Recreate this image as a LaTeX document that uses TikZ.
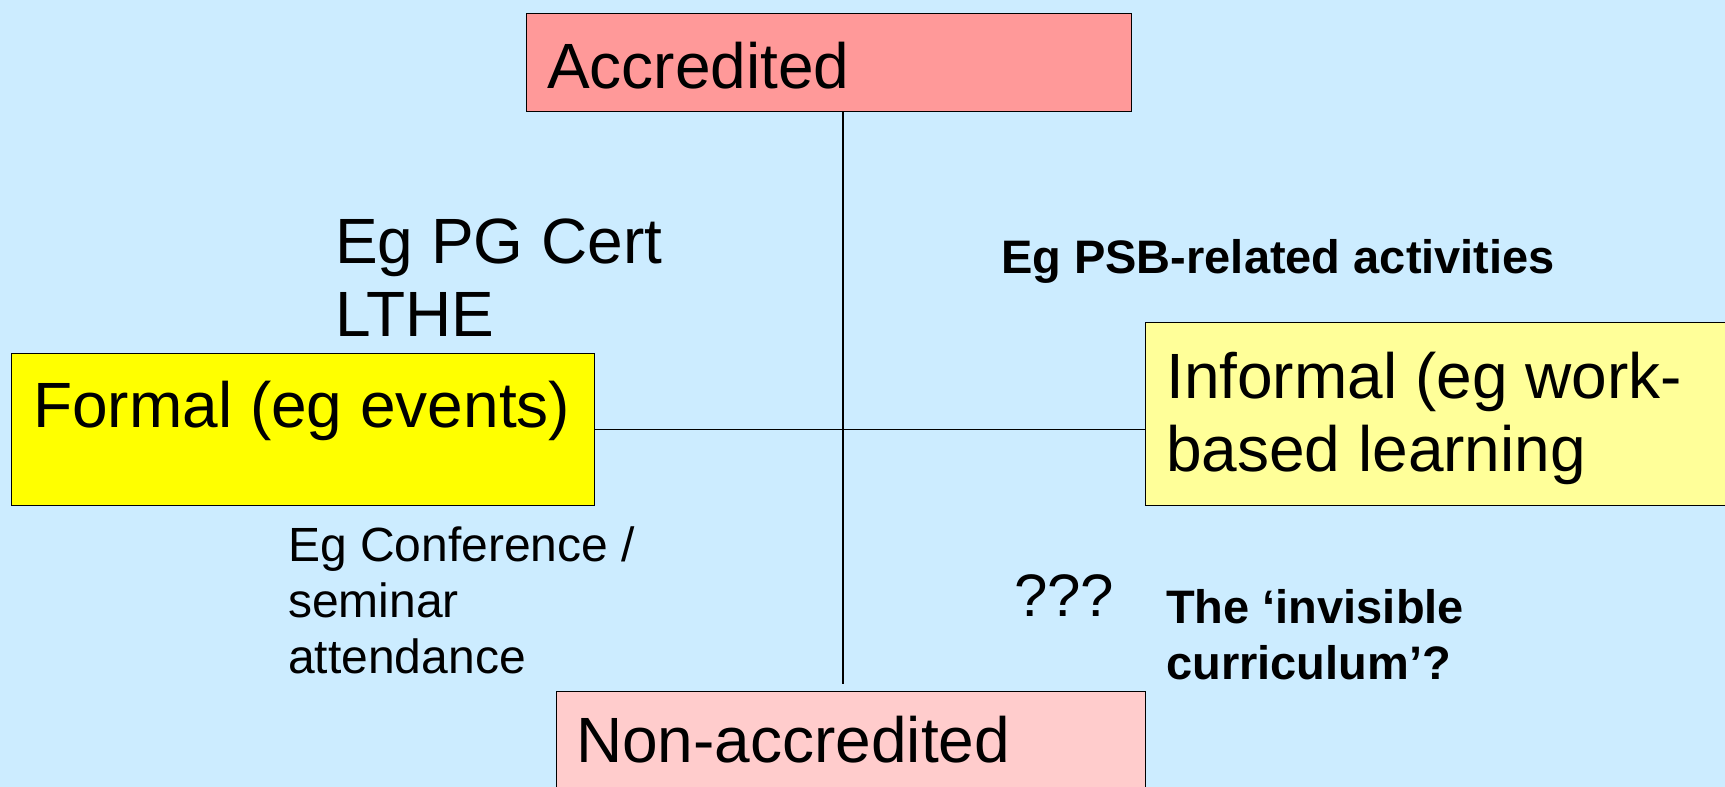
\documentclass[tikz,border=0pt]{standalone}
\usepackage{fontspec}
\setmainfont{Liberation Sans}
\usetikzlibrary{positioning,calc}
\definecolor{sky}{HTML}{CCECFF}
\definecolor{rose}{HTML}{FF9999}
\definecolor{blush}{HTML}{FFCCCC}
\definecolor{lemon}{HTML}{FFFF00}
\definecolor{cream}{HTML}{FFFF99}
\tikzset{
  box/.style={draw=black,line width=1.3pt,anchor=north west,inner sep=0pt},
  big/.style={font=\fontsize{64}{73}\selectfont,anchor=base west,inner sep=0pt,align=left},
  small/.style={font=\fontsize{48}{56}\selectfont,anchor=base west,inner sep=0pt,align=left},
  bold/.style={small,font=\fontsize{47}{56}\selectfont\bfseries},
  link/.style={draw=black,line width=1.3pt}
}

\begin{document}
\begin{tikzpicture}[x=1pt,y=-1pt]
    \useasboundingbox (0,0) rectangle (1725,787);
    \fill[sky] (0,0) rectangle (1725,787);

    % the four poles
    \node[box,fill=rose,minimum width=605,minimum height=98] (accred) at (526,13) {};
    \node[box,fill=lemon,minimum width=583,minimum height=152] (formal) at (11,353) {};
    \node[box,fill=cream,minimum width=620,minimum height=183] (informal) at (1145,322) {};
    \node[box,fill=blush,minimum width=589,minimum height=120] (nonacc) at (556,691) {};

    % multi-line texts sit on their last baseline
    \node[big] (acclbl) at (547,88) {Accredited};
    \node[big] (formlbl) at (33,427) {Formal (eg events)};
    \node[big] (inflbl) at (1166,471) {Informal (eg work-\\based learning};
    \node[big] (nonlbl) at (576,762) {Non-accredited};

    % axes
    \coordinate (hub) at (843,428);
    \coordinate (vend) at (843,684);
    \draw[link] (hub |- accred.south) -- (vend);
    \draw[link] (formal.east) -- (formal.east -| informal.west);

    % examples in the quadrants
    \node[big] (pgcert) at (335,336) {Eg PG Cert\\LTHE};
    \node[bold] (psb) at (1001,273) {Eg PSB-related activities};
    \node[small] (conf) at (288,673) {Eg Conference /\\seminar\\attendance};
    \node[big,font=\fontsize{60}{70}\selectfont] (qqq) at (1014,616) {???};
    \node[bold] (invis) at (1166,679) {The ‘invisible\\curriculum’?};
\end{tikzpicture}
\end{document}
